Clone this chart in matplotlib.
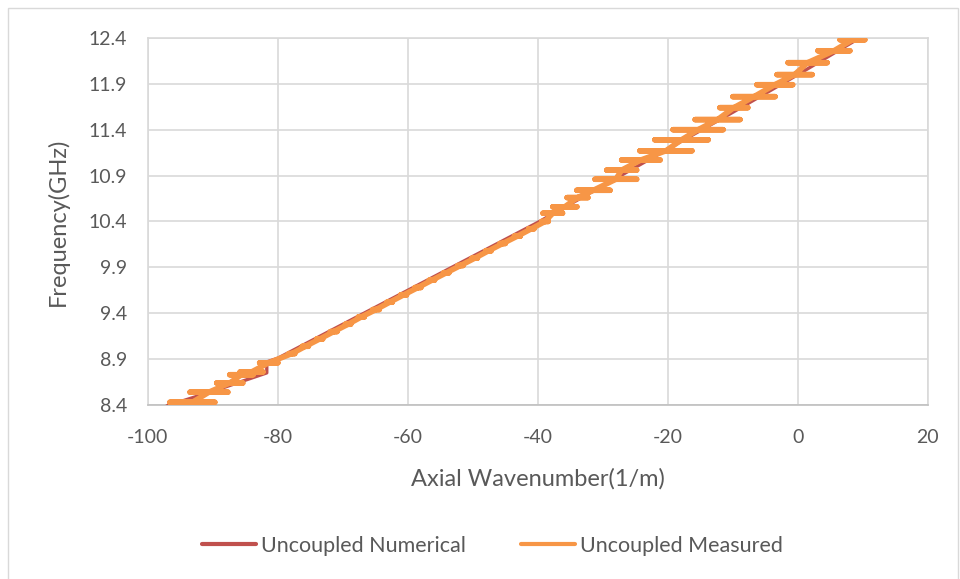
import matplotlib
matplotlib.use('Agg')
import matplotlib.pyplot as plt
from matplotlib.patches import Rectangle

plt.rcParams['font.family'] = ['Lato', 'DejaVu Sans']
plt.rcParams['axes.unicode_minus'] = False

# numerical dispersion curve (1/m, GHz)
num_k = [-97.1, -90.0, -81.7, -81.7, -80.0, -70.0, -60.0, -50.0, -40.0, -30.0, -20.0, -10.0, 0.0, 9.5]
num_f = [8.39, 8.55, 8.75, 8.87, 8.91, 9.28, 9.65, 10.02, 10.39, 10.79, 11.19, 11.59, 12.0, 12.4]

# measured sweep: frequency levels with the wavenumber spread seen at each level
meas_f = [8.43, 8.54, 8.64, 8.73, 8.76, 8.86,
          8.96, 9.04, 9.12, 9.20, 9.28, 9.36, 9.44, 9.52, 9.60, 9.68,
          9.76, 9.84, 9.92, 10.00, 10.08, 10.16, 10.24, 10.32, 10.40,
          10.49, 10.56, 10.66, 10.74, 10.86, 10.96, 11.07, 11.17, 11.29,
          11.40, 11.51, 11.64, 11.76, 11.89, 12.00, 12.13, 12.26, 12.38]
meas_left = [-96.6, -93.5, -89.4, -87.4, -85.8, -82.8,
             -78.3, -76.2, -74.0, -71.9, -69.6, -67.6, -65.4, -63.2, -61.1, -58.9,
             -56.7, -54.5, -52.3, -50.1, -48.0, -45.8, -43.6, -41.4, -39.4,
             -39.2, -37.7, -35.5, -34.0, -31.2, -29.4, -27.1, -24.3, -22.0,
             -19.2, -15.8, -12.0, -10.0, -6.3, -3.2, -1.5, 3.1, 6.5]
meas_right = [-89.7, -87.7, -85.4, -83.8, -82.3, -80.0,
              -77.4, -75.3, -73.1, -70.9, -68.8, -66.7, -64.4, -62.4, -60.2, -58.0,
              -55.9, -53.7, -51.5, -49.3, -47.2, -45.0, -42.7, -40.6, -38.4,
              -36.2, -34.0, -32.3, -28.9, -24.8, -24.8, -21.2, -16.3, -13.8,
              -11.5, -8.9, -7.7, -3.5, -0.8, 2.2, 4.5, 8.0, 10.3]

# trace each level out and back, then step to the next level
meas_k = []
meas_ff = []
for f, lo, hi in zip(meas_f, meas_left, meas_right):
    mid = (lo + hi) / 2
    meas_k += [mid, lo, hi, mid]
    meas_ff += [f, f, f, f]

fig = plt.figure(figsize=(9.6, 5.79), dpi=100)
ax = fig.add_axes([0.154, 0.3005, 0.8125, 0.634])

ax.plot(num_k, num_f, color='#C0504D', lw=2.4, label='Uncoupled Numerical',
        solid_joinstyle='round', solid_capstyle='round', zorder=3)
ax.plot(meas_k, meas_ff, color='#F79646', lw=4.0, label='Uncoupled Measured',
        solid_joinstyle='round', solid_capstyle='round', zorder=4)

ax.set_xlim(-100, 20)
ax.set_ylim(8.4, 12.4)
ax.set_xticks(range(-100, 21, 20))
yt = [8.4 + 0.5 * i for i in range(9)]
ax.set_yticks(yt)
ax.set_yticklabels(['%.1f' % v for v in yt])
ax.grid(True, color='#D9D9D9', lw=1.2)
ax.set_axisbelow(True)
for s in ax.spines.values():
    s.set_color('#D9D9D9')
    s.set_linewidth(1.2)
ax.spines['bottom'].set_color('#BFBFBF')
ax.tick_params(length=0, labelsize=14, colors='#595959')
ax.tick_params(axis='y', pad=15)
ax.tick_params(axis='x', pad=17)

ax.set_xlabel('Axial Wavenumber(1/m)', fontsize=17, color='#595959', labelpad=16)
ax.set_ylabel('Frequency(GHz)', fontsize=17, color='#595959', labelpad=14)

leg = fig.legend(loc='center', bbox_to_anchor=(0.513, 0.057), ncol=2, frameon=False,
                 fontsize=15.5, labelcolor='#595959', handlelength=2.5,
                 handletextpad=0.2, columnspacing=2.6)
for h in leg.get_lines():
    h.set_linewidth(3.0)

fig.patches.append(Rectangle((8 / 960, -0.01), 950 / 960, 1 - 8 / 579 + 0.01,
                             transform=fig.transFigure, fill=False,
                             edgecolor='#D9D9D9', lw=1.0))

fig.savefig('out.png', dpi=100)
